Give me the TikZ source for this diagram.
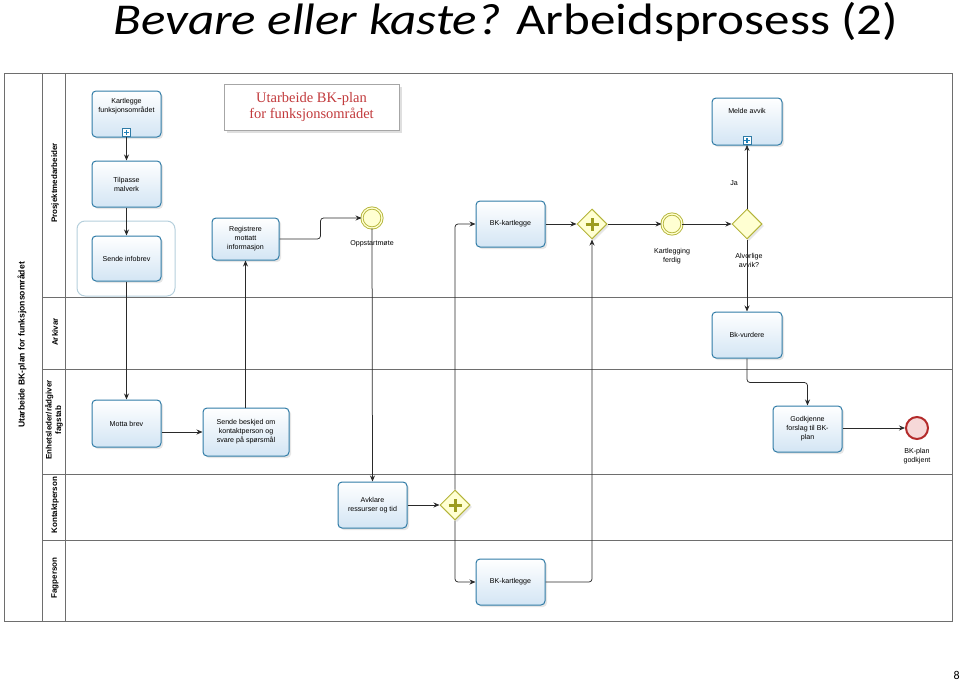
\documentclass[tikz,border=0pt]{standalone}
\usepackage{fontspec}
\setmainfont{Carlito}
\newfontfamily\bpmnfont{Liberation Sans}
\newfontfamily\boxfont{Liberation Serif}
\usetikzlibrary{positioning, calc, arrows.meta, shapes.geometric, shadows}
\definecolor{TaskLine}{HTML}{2F7BA6}
\definecolor{TaskFill}{HTML}{D3E5F4}
\definecolor{PlusBlue}{HTML}{1F80B8}
\definecolor{GateLine}{HTML}{B4B43A}
\definecolor{GateFill}{HTML}{FFFFD2}
\definecolor{PlusOlive}{HTML}{9C9C1E}
\definecolor{EndLine}{HTML}{B32A2A}
\definecolor{EndFill}{HTML}{F6D8D8}
\definecolor{Flow}{HTML}{2A2A2A}
\definecolor{LaneLine}{HTML}{6E6E6E}
\definecolor{GroupLine}{HTML}{B5CFDC}
\definecolor{BoxRed}{HTML}{C23A3C}
\tikzset{
    task/.style={rectangle, rounded corners=4pt, draw=TaskLine, line width=1pt, top color=white, bottom color=TaskFill, align=center, font=\bpmnfont\fontsize{7.1}{9}\selectfont, minimum width=69pt, minimum height=46pt, inner sep=1pt, drop shadow={opacity=0.2, shadow xshift=2pt, shadow yshift=-2pt}},
    subm/.style={rectangle, draw=TaskLine, line width=0.8pt, fill=white, minimum size=8pt, inner sep=0pt, path picture={\draw[line width=1.6pt, PlusBlue] ($(path picture bounding box.center)+(-2.6pt,0)$) -- +(5.2pt,0) ($(path picture bounding box.center)+(0,-2.6pt)$) -- +(0,5.2pt);}},
    gate/.style={diamond, draw=GateLine, line width=1pt, fill=GateFill, minimum width=30pt, minimum height=30pt, inner sep=0pt, drop shadow={opacity=0.2, shadow xshift=2pt, shadow yshift=-2pt}},
    pgate/.style={gate, path picture={\draw[line width=3pt, PlusOlive] ($(path picture bounding box.center)+(-6.5pt,0)$) -- +(13pt,0) ($(path picture bounding box.center)+(0,-6.5pt)$) -- +(0,13pt);}},
    event/.style={circle, draw=GateLine, fill=GateFill, line width=0.9pt, double=GateFill, double distance=1.3pt, minimum size=20pt, inner sep=0pt},
    endevent/.style={circle, draw=EndLine, fill=EndFill, line width=2pt, minimum size=22pt, inner sep=0pt},
    flow/.style={-{Stealth[length=6pt,width=5pt]}, line width=0.75pt, color=Flow, rounded corners=3pt},
    lbl/.style={font=\bpmnfont\fontsize{7.1}{9}\selectfont, align=center, inner sep=1pt},
    lane/.style={draw=LaneLine, line width=0.7pt},
    lanename/.style={rotate=90, font=\bpmnfont\bfseries\fontsize{8}{9.5}\selectfont, align=center, inner sep=1pt},
}

\begin{document}
\begin{tikzpicture}[x=1pt, y=-1pt]
    \useasboundingbox (0,0) rectangle (960,685);

    % Tittel
    \node[font=\fontsize{44}{48}\selectfont, anchor=base, xscale=1.16] (tittel) at (506,35) {\textit{Bevare eller kaste?} Arbeidsprosess (2)};
    \node[font=\fontsize{12}{14}\selectfont, anchor=base east, inner sep=0pt] (side) at (960,679) {8};

    % Pool og baner
    \draw[lane] (4,73) rectangle (952,621);
    \draw[lane] (42,73) -- (42,621);
    \draw[lane] (65,73) -- (65,621);
    \foreach \y in {297, 369, 474, 540}
        \draw[lane] (42,\y) -- (952,\y);
    \node[lanename, font=\bpmnfont\bfseries\fontsize{8.6}{10}\selectfont] (pool) at (22,345) {Utarbeide BK-plan for funksjonsområdet};
    \node[lanename] (lane1) at (55,183) {Prosjektmedarbeider};
    \node[lanename] (lane2) at (55,332) {Arkivar};
    \node[lanename] (lane3) at (54,420) {Enhetsleder/rådgiver\\fagstab};
    \node[lanename] (lane4) at (55,505) {Kontaktperson};
    \node[lanename] (lane5) at (55,578) {Fagperson};

    % Overskriftsboks
    \node[rectangle, draw=gray!70, fill=white, minimum width=175pt, minimum height=46pt, align=center, text=BoxRed, font=\boxfont\fontsize{14.5}{16}\selectfont, drop shadow={opacity=0.25, shadow xshift=3pt, shadow yshift=-3pt}] (boks) at (311.5,107) {Utarbeide BK-plan\\for funksjonsområdet};

    % Gruppe
    \draw[GroupLine, line width=1pt, rounded corners=8pt] (77,221) rectangle (175,296);

    % Prosjektmedarbeider
    \node[task] (kartlegge) at (126.5,114) {Kartlegge\\funksjonsområdet\\[9pt]};
    \node[subm] (kartleggeM) at ([yshift=5pt]kartlegge.south) {};
    \node[task] (tilpasse) at (126.5,184) {Tilpasse\\malverk};
    \node[task, minimum height=45pt] (infobrev) at (126.5,258.5) {Sende infobrev};
    \node[task, minimum width=67pt, minimum height=42pt] (registrere) at (245.5,239) {Registrere\\mottatt\\informasjon};
    \node[event] (oppstart) at (372,218) {};
    \node[lbl] (oppstartL) at (372,244) {Oppstartmøte};
    \node[task] (kartleggeA) at (510.5,224) {BK-kartlegge};
    \node[pgate] (g1) at (592,224) {};
    \node[event] (ferdig) at (672,224) {};
    \node[lbl] (ferdigL) at (672,256) {Kartlegging\\ferdig};
    \node[gate] (xg) at (747,224) {};
    \node[lbl] (xgL) at (749,260) {Alvorlige\\avvik?};
    \node[task, minimum width=70pt, minimum height=47pt] (melde) at (747,121.5) {Melde avvik\\[12pt]};
    \node[subm] (meldeM) at ([yshift=5pt]melde.south) {};
    \node[lbl] (ja) at (734,183) {Ja};

    % Arkivar
    \node[task, minimum width=70pt] (vurdere) at (747,335) {Bk-vurdere};

    % Enhetsleder/raadgiver fagstab
    \node[task, minimum height=47pt] (motta) at (126.5,423.5) {Motta brev};
    \node[task, minimum width=86pt, minimum height=48pt] (beskjed) at (246,432) {Sende beskjed om\\kontaktperson og\\svare på spørsmål};
    \node[task] (godkjenne) at (807.5,429) {Godkjenne\\forslag til BK-\\plan};
    \node[endevent] (slutt) at (917,428) {};
    \node[lbl] (sluttL) at (917,456) {BK-plan\\godkjent};

    % Kontaktperson
    \node[task] (avklare) at (372.5,505) {Avklare\\ressurser og tid};
    \node[pgate] (g2) at (455,505) {};

    % Fagperson
    \node[task] (kartleggeB) at (510.5,582) {BK-kartlegge};

    % Flyt
    \draw[flow] (kartleggeM.south) -- (tilpasse.north);
    \draw[flow] (tilpasse) -- (infobrev);
    \draw[flow] (infobrev) -- (motta);
    \draw[flow] (motta.east |- beskjed.west) -- (beskjed.west);
    \draw[flow] (beskjed.north -| registrere) -- (registrere.south);
    \draw[flow] (registrere.east) -- ++(41,0) |- (oppstart.west);
    \draw[flow] (oppstart.south) -- (avklare.north);
    \draw[flow] (avklare) -- (g2);
    \draw[flow] (g2.north) |- (kartleggeA.west);
    \draw[flow] (g2.south) |- (kartleggeB.west);
    \draw[flow] (kartleggeA) -- (g1);
    \draw[flow] (kartleggeB.east) -| (g1.south);
    \draw[flow] (g1) -- (ferdig);
    \draw[flow] (ferdig) -- (xg);
    \draw[flow] (xg.north) -- (meldeM.south);
    \draw[flow] (xg.south) -- (vurdere.north);
    \draw[flow] (vurdere.south) -- ++(0,24) -| (godkjenne.north);
    \draw[flow] (godkjenne.east |- slutt) -- (slutt.west);
\end{tikzpicture}
\end{document}
